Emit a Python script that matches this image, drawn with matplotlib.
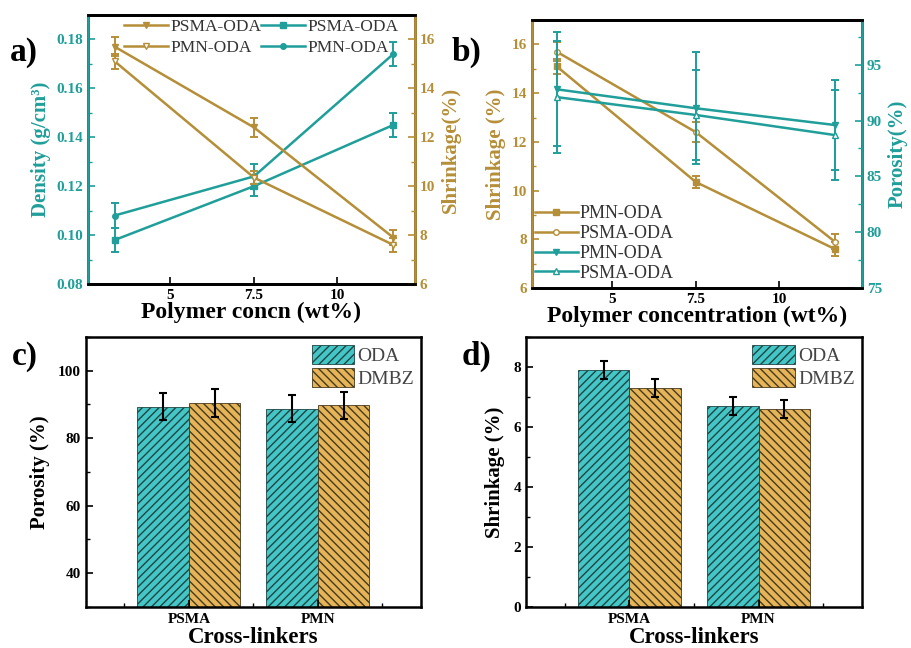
import matplotlib
matplotlib.use('Agg')
import matplotlib.pyplot as plt
import numpy as np
from matplotlib.ticker import MultipleLocator, FixedLocator

# data
conc = [3.33, 7.5, 11.67]

dens_psma = [0.098, 0.120, 0.145]
dens_psma_err = [0.005, 0.004, 0.005]
dens_pmn = [0.108, 0.124, 0.174]
dens_pmn_err = [0.005, 0.005, 0.005]

shr_psma = [15.7, 12.4, 7.9]
shr_psma_err = [0.4, 0.4, 0.3]
shr_pmn = [15.1, 10.35, 7.6]
shr_pmn_err = [0.3, 0.25, 0.3]

por_pmn = [92.8, 91.1, 89.6]
por_pmn_err = [5.1, 5.0, 4.0]
por_psma = [92.1, 90.5, 88.7]
por_psma_err = [5.0, 4.0, 4.0]

crosslinkers = ['PSMA', 'PMN']
bar_por_oda = [89.3, 88.8]
bar_por_oda_err = [4.0, 4.0]
bar_por_dmbz = [90.5, 89.7]
bar_por_dmbz_err = [4.1, 4.1]
bar_shr_oda = [7.9, 6.7]
bar_shr_oda_err = [0.3, 0.3]
bar_shr_dmbz = [7.3, 6.6]
bar_shr_dmbz_err = [0.3, 0.3]

TEAL = '#1f9e9a'
GOLD = '#b58e38'
TEAL_BAR = '#45c6c6'
GOLD_BAR = '#e6b458'

plt.rcParams['font.family'] = ['Liberation Serif', 'DejaVu Serif']
plt.rcParams['font.weight'] = 'bold'
plt.rcParams['axes.labelweight'] = 'bold'
plt.rcParams['hatch.linewidth'] = 1.0

fig = plt.figure(figsize=(9.12, 6.48), dpi=100)

def style_ticks(ax, color='black'):
    ax.tick_params(which='both', direction='in', colors=color, labelsize=11)
    ax.tick_params(which='major', length=5, width=1.2)
    ax.tick_params(which='minor', length=3, width=1.0)

lw = 1.8
ms = 4
eb = dict(capsize=3, elinewidth=1.4, capthick=1.4, lw=lw, ms=ms)

# ---------- a) ----------
axa = fig.add_axes([0.0965, 0.5617, 0.3585, 0.4153])
axa2 = axa.twinx()
l1 = axa.errorbar(conc, dens_psma, yerr=dens_psma_err, color=TEAL, marker='s', **eb)
l2 = axa.errorbar(conc, dens_pmn, yerr=dens_pmn_err, color=TEAL, marker='o', **eb)
l3 = axa2.errorbar(conc, shr_psma, yerr=shr_psma_err, color=GOLD, marker='v', **eb)
l4 = axa2.errorbar(conc, shr_pmn, yerr=shr_pmn_err, color=GOLD, marker='v', mfc='white', **eb)
axa.set_xlim(2.53, 12.32)
axa.set_ylim(0.08, 0.19)
axa2.set_ylim(6, 17)
axa.set_xticks([5, 7.5, 10])
axa.set_xticklabels(['5', '7.5', '10'])
axa.yaxis.set_major_locator(FixedLocator([0.08, 0.10, 0.12, 0.14, 0.16, 0.18]))
axa.yaxis.set_minor_locator(MultipleLocator(0.01))
axa2.yaxis.set_major_locator(FixedLocator([6, 8, 10, 12, 14, 16]))
axa2.yaxis.set_minor_locator(MultipleLocator(1))
axa.yaxis.set_major_formatter(plt.FormatStrFormatter('%.2f'))
style_ticks(axa)
axa.tick_params(axis='y', which='both', colors=TEAL)
style_ticks(axa2)
axa2.tick_params(axis='y', which='both', colors=GOLD)
for ax in (axa, axa2):
    for s in ax.spines.values():
        s.set_linewidth(2)
axa2.spines['left'].set_color(TEAL)
axa2.spines['right'].set_color(GOLD)
axa.set_xlabel('Polymer concn (wt%)', fontsize=17, labelpad=0)
axa.set_ylabel('Density (g/cm³)', fontsize=15, color=TEAL, labelpad=4)
axa2.set_ylabel('Shrinkage(%)', fontsize=15, color=GOLD, labelpad=4)
axa2.legend([l3[0], l4[0], l1[0], l2[0]], ['PSMA-ODA', 'PMN-ODA', 'PSMA-ODA', 'PMN-ODA'],
            ncol=2, frameon=False, loc='upper center', bbox_to_anchor=(0.53, 1.03),
            prop={'weight': 'normal', 'size': 12.5}, labelcolor='#333333',
            handlelength=2.5, handletextpad=0.15, columnspacing=0.0, labelspacing=0.3,
            borderpad=0.2)

# ---------- b) ----------
axb = fig.add_axes([0.583, 0.5556, 0.362, 0.4134])
axb2 = axb.twinx()
b1 = axb.errorbar(conc, shr_pmn, yerr=shr_pmn_err, color=GOLD, marker='s', **eb)
b2 = axb.errorbar(conc, shr_psma, yerr=shr_psma_err, color=GOLD, marker='o', mfc='white', **eb)
b3 = axb2.errorbar(conc, por_pmn, yerr=por_pmn_err, color=TEAL, marker='v', **eb)
b4 = axb2.errorbar(conc, por_psma, yerr=por_psma_err, color=TEAL, marker='^', mfc='white', **eb)
axb.set_xlim(2.58, 12.48)
axb.set_ylim(6, 17)
axb2.set_ylim(75, 99)
axb.set_xticks([5, 7.5, 10])
axb.set_xticklabels(['5', '7.5', '10'])
axb.yaxis.set_major_locator(FixedLocator([6, 8, 10, 12, 14, 16]))
axb.yaxis.set_minor_locator(MultipleLocator(1))
axb2.yaxis.set_major_locator(FixedLocator([75, 80, 85, 90, 95]))
axb2.yaxis.set_minor_locator(MultipleLocator(2.5))
style_ticks(axb)
axb.tick_params(axis='y', which='both', colors=GOLD)
style_ticks(axb2)
axb2.tick_params(axis='y', which='both', colors=TEAL)
for ax in (axb, axb2):
    for s in ax.spines.values():
        s.set_linewidth(2)
axb2.spines['left'].set_color(GOLD)
axb2.spines['right'].set_color(TEAL)
axb.set_xlabel('Polymer concentration (wt%)', fontsize=17, labelpad=0)
axb.set_ylabel('Shrinkage (%)', fontsize=15, color=GOLD, labelpad=4)
axb2.set_ylabel('Porosity(%)', fontsize=15, color=TEAL, labelpad=4)
axb2.legend([b1[0], b2[0], b3[0], b4[0]], ['PMN-ODA', 'PSMA-ODA', 'PMN-ODA', 'PSMA-ODA'],
            frameon=False, loc='lower left', bbox_to_anchor=(-0.035, -0.03),
            prop={'weight': 'normal', 'size': 13}, labelcolor='#333333',
            handlelength=2.4, handletextpad=0.1, labelspacing=0.15, borderpad=0.3)

# ---------- c) and d) ----------
def bar_panel(rect, oda, oda_err, dmbz, dmbz_err, ylim, yticks, yminor, ylabel):
    ax = fig.add_axes(rect)
    x = np.arange(len(crosslinkers))
    w = 0.4
    ax.bar(x - w / 2, oda, w, yerr=oda_err, color=TEAL_BAR, edgecolor='#1f4545',
           linewidth=0.6, hatch='////', label='ODA', capsize=3,
           error_kw=dict(elinewidth=1.5, capthick=1.5, ecolor='black'))
    ax.bar(x + w / 2, dmbz, w, yerr=dmbz_err, color=GOLD_BAR, edgecolor='#45391d',
           linewidth=0.6, hatch='\\\\\\\\', label='DMBZ', capsize=3,
           error_kw=dict(elinewidth=1.5, capthick=1.5, ecolor='black'))
    ax.set_xlim(-0.8, 1.8)
    ax.set_ylim(*ylim)
    ax.set_xticks(x)
    ax.set_xticklabels(crosslinkers)
    ax.xaxis.set_minor_locator(FixedLocator([-0.5, 0.5, 1.5]))
    ax.set_yticks(yticks)
    ax.yaxis.set_minor_locator(MultipleLocator(yminor))
    style_ticks(ax)
    ax.tick_params(axis='x', which='major', pad=4)
    for s in ax.spines.values():
        s.set_linewidth(1.8)
    ax.set_xlabel('Cross-linkers', fontsize=16.5, labelpad=1)
    ax.set_ylabel(ylabel, fontsize=15, labelpad=6)
    ax.legend(loc='upper right', frameon=False, prop={'weight': 'normal', 'size': 14},
              labelcolor='#444444', handlelength=2.2, handleheight=1.1,
              handletextpad=0.15, labelspacing=0.15, borderpad=0.2,
              bbox_to_anchor=(1.02, 1.02))
    return ax

bar_panel([0.094, 0.0633, 0.3676, 0.4167], bar_por_oda, bar_por_oda_err,
          bar_por_dmbz, bar_por_dmbz_err, (30, 110), [40, 60, 80, 100], 10, 'Porosity (%)')
bar_panel([0.577, 0.0633, 0.368, 0.4167], bar_shr_oda, bar_shr_oda_err,
          bar_shr_dmbz, bar_shr_dmbz_err, (0, 9), [0, 2, 4, 6, 8], 1, 'Shrinkage (%)')

# panel letters
for lbl, (px, py) in zip(['a)', 'b)', 'c)', 'd)'],
                         [(10, 52), (452, 52), (12, 356), (462, 356)]):
    fig.text(px / 912, 1 - py / 648, lbl, fontsize=24, fontweight='bold', va='center', ha='left')

fig.savefig('out.png', dpi=100)
